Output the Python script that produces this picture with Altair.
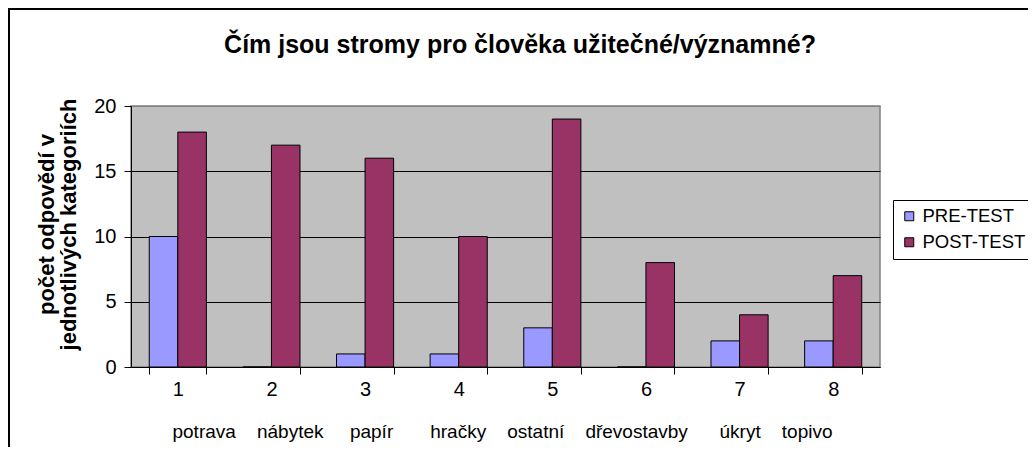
import altair as alt
import pandas as pd

title_text = "Čím jsou stromy pro člověka užitečné/významné?"
y_title = ["počet odpovědí v", "jednotlivých kategoriích"]
numbers = ["1", "2", "3", "4", "5", "6", "7", "8"]
names = ["potrava", "nábytek", "papír", "hračky", "ostatní", "dřevostavby", "úkryt", "topivo"]
series = ["PRE-TEST", "POST-TEST"]
pre_test = [10, 0, 1, 1, 3, 0, 2, 2]
post_test = [18, 17, 16, 10, 19, 8, 4, 7]
y_ticks = [0, 5, 10, 15, 20]

# spacing (number of blanks) between the category names in the text row
gaps = [4, 5, 7, 4, 4, 6, 4]

rows = []
for i, n in enumerate(numbers):
    rows.append({"kat": n, "serie": series[0], "hodnota": pre_test[i]})
    rows.append({"kat": n, "serie": series[1], "hodnota": post_test[i]})
df = pd.DataFrame(rows)

names_row = names[0]
for g, nm in zip(gaps, names[1:]):
    names_row += "\u00a0" * g + nm

W, H = 749, 261
FONT = "Liberation Sans"

bars = alt.Chart(df).mark_bar(stroke="black", strokeWidth=1).encode(
    x=alt.X(
        "kat:N",
        sort=numbers,
        scale=alt.Scale(paddingInner=0.39, paddingOuter=0.195),
        axis=alt.Axis(
            title=None,
            labelAngle=0,
            tickBand="extent",
            labelFont=FONT,
            labelFontSize=20,
            labelColor="black",
            labelPadding=5,
            tickColor="black",
            tickSize=7,
            domainColor="black",
            grid=False,
        ),
    ),
    xOffset=alt.XOffset("serie:N", sort=series),
    y=alt.Y(
        "hodnota:Q",
        scale=alt.Scale(domain=[0, 20], nice=False),
        axis=alt.Axis(
            values=y_ticks,
            title=y_title,
            titleFont=FONT,
            titleFontSize=22,
            titleFontWeight="bold",
            titleColor="black",
            titleAngle=-90,
            titleAlign="center",
            titleBaseline="middle",
            titleLineHeight=22,
            titleLimit=400,
            titleX=-85,
            titleY=118,
            labelFont=FONT,
            labelFontSize=20,
            labelColor="black",
            labelPadding=8,
            tickColor="black",
            tickSize=7,
            domainColor="black",
            grid=True,
            gridColor={"condition": {"test": "datum.value === 20", "value": "#808080"}, "value": "black"},
            gridWidth=1,
        ),
    ),
    color=alt.Color(
        "serie:N",
        sort=series,
        scale=alt.Scale(domain=series, range=["#9999FF", "#993366"]),
        legend=alt.Legend(
            title=None,
            orient="none",
            legendX=762,
            legendY=94,
            strokeColor="black",
            fillColor="white",
            padding=7,
            rowPadding=7,
            symbolType="square",
            symbolSize=81,
            symbolStrokeColor="black",
            symbolStrokeWidth=1,
            labelFont=FONT,
            labelFontSize=18.5,
            labelColor="black",
            labelOffset=4,
            labelLimit=300,
        ),
    ),
)

names_layer = alt.Chart(pd.DataFrame({"t": [names_row]})).mark_text(
    font=FONT, fontSize=19, align="center", baseline="middle", color="black"
).encode(text="t:N", x=alt.value(371.5), y=alt.value(H + 65))

title_layer = alt.Chart(pd.DataFrame({"t": [title_text]})).mark_text(
    font=FONT, fontSize=25, fontWeight="bold", align="center", baseline="middle", color="black"
).encode(text="t:N", x=alt.value(389), y=alt.value(-61))

frame = alt.Chart(pd.DataFrame({"a": [0]})).mark_rect(
    filled=False, stroke="black", strokeWidth=2
).encode(
    x=alt.value(-122), x2=alt.value(W + 400), y=alt.value(-97), y2=alt.value(H + 400)
)

chart = alt.layer(bars, names_layer, title_layer, frame).properties(
    width=W,
    height=H,
    autosize=alt.AutoSizeParams(type="none"),
    padding={"left": 123, "top": 98, "right": 148, "bottom": 80},
).configure_view(fill="#C0C0C0", stroke="#808080", strokeWidth=1.5)

chart.save("out.html", embed_options={"renderer": "svg", "actions": False})
